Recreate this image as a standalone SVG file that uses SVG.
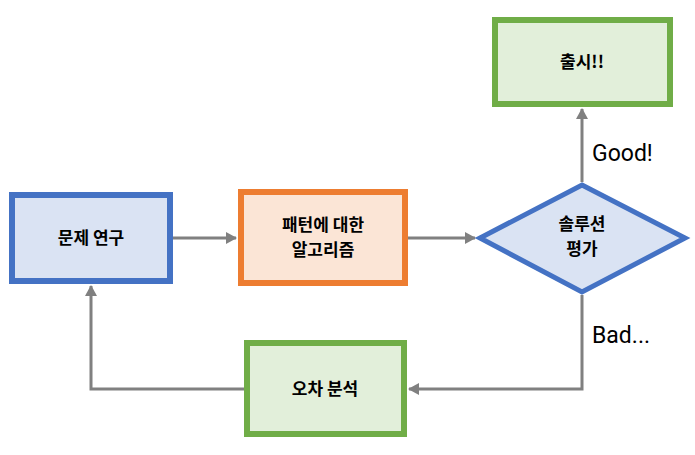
<svg xmlns="http://www.w3.org/2000/svg" width="695" height="455" viewBox="0 0 695 455">
<style>
.lbl{font-family:"Noto Sans CJK KR","Noto Sans",sans-serif;font-size:17px;font-weight:bold;fill:#000;text-anchor:middle}
.edge{fill:none;stroke:#808080;stroke-width:3}
.el{font-family:Roboto,"Noto Sans",sans-serif;font-size:23px;fill:#000}
</style>
<defs>
<marker id="ah" markerUnits="userSpaceOnUse" markerWidth="12" markerHeight="12" refX="10" refY="6" orient="auto">
<path d="M0,0 L11,6 L0,12 Z" fill="#808080"/>
</marker>
</defs>
<g id="connectors">
<path class="edge" d="M172,238 H236" marker-end="url(#ah)"/>
<path class="edge" d="M407,238 H475" marker-end="url(#ah)"/>
<path class="edge" d="M582,182 V109" marker-end="url(#ah)"/>
<path class="edge" d="M582,295 V389 H409" marker-end="url(#ah)"/>
<path class="edge" d="M244,389 H91 V286" marker-end="url(#ah)"/>
<text class="el" x="592" y="161">Good!</text>
<text class="el" x="592" y="343">Bad...</text>
</g>
<g id="n1">
<rect x="12" y="195" width="158" height="86" fill="#dae3f3" stroke="#4472c4" stroke-width="6"/>
<text class="lbl" x="91" y="244">문제 연구</text>
</g>
<g id="n2">
<rect x="241" y="192" width="164" height="91" fill="#fbe5d6" stroke="#ed7d31" stroke-width="6"/>
<text class="lbl" x="323" y="231">패턴에 대한</text>
<text class="lbl" x="323" y="256">알고리즘</text>
</g>
<g id="n3">
<polygon points="582,185 685,238 582,292 480,238" fill="#dae3f3" stroke="#4472c4" stroke-width="5"/>
<text class="lbl" x="582" y="230">솔루션</text>
<text class="lbl" x="582" y="255">평가</text>
</g>
<g id="n4">
<rect x="495" y="20" width="175" height="84" fill="#e2efda" stroke="#70ad47" stroke-width="6"/>
<text class="lbl" x="582" y="68">출시!!</text>
</g>
<g id="n5">
<rect x="247" y="343" width="157" height="91" fill="#e2efda" stroke="#70ad47" stroke-width="6"/>
<text class="lbl" x="325" y="395">오차 분석</text>
</g>
</svg>
